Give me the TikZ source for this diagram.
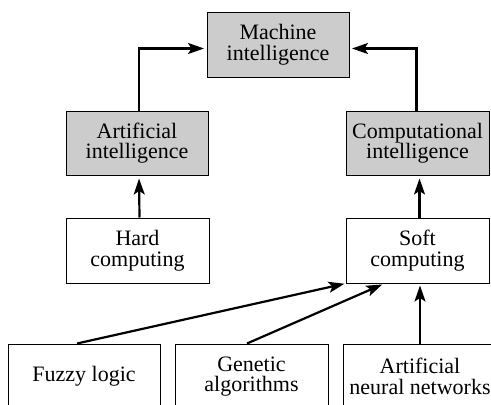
\documentclass[tikz,border=0pt]{standalone}
\usepackage{fontspec}
\setmainfont{Liberation Serif}
\usetikzlibrary{arrows.meta,calc}
\tikzset{
  box/.style={draw=black, line width=1pt, align=center, inner sep=0pt,
    font=\fontsize{22}{20.5}\selectfont},
  graybox/.style={box, fill=black!20},
  arr/.style={line width=2.2pt, -{Stealth[length=16pt,width=11pt,inset=3.5pt]}},
}
\begin{document}
\begin{tikzpicture}[x=1pt,y=-1pt]
\useasboundingbox (0,0) rectangle (491,405);
\clip (0,0) rectangle (491,405);
\node[graybox, minimum width=142pt, minimum height=65pt] (machine) at (278,44.5) {Machine\\intelligence};
\node[graybox, minimum width=142pt, minimum height=64pt] (ai) at (137,143) {Artificial\\intelligence};
\node[graybox, minimum width=143pt, minimum height=64pt] (ci) at (417.5,143) {Computational\\intelligence};
\node[box, minimum width=143pt, minimum height=65pt] (hard) at (137.5,250.5) {Hard\\computing};
\node[box, minimum width=143pt, minimum height=65pt] (soft) at (417.5,250.5) {Soft\\computing};
\node[box, minimum width=152pt, minimum height=65pt] (fuzzy) at (84,376.5) {Fuzzy logic};
\node[box, minimum width=153pt, minimum height=65pt] (genetic) at (251.5,376.5) {Genetic\\algorithms};
\node[box, minimum width=154pt, minimum height=65pt] (ann) at (420,376.5) {Artificial\\neural networks};

\draw[arr, shorten >=2.5pt] ([xshift=2pt]ai.north) |- ([yshift=-4pt]machine.west);
\draw[arr, shorten >=2.5pt] ([xshift=-1pt]ci.north) |- ([yshift=-4pt]machine.east);
\draw[arr, shorten >=3pt] ([xshift=2pt]hard.north) -- ([xshift=2pt]ai.south);
\draw[arr, shorten >=3pt] ([xshift=2pt]soft.north) -- ([xshift=2pt]ci.south);
\draw[arr, shorten >=2pt] (ann.north) -- (ann.north |- soft.south);
\draw[arr, shorten >=1pt] ([xshift=-7pt]fuzzy.north) -- (soft.south west);
\draw[arr, shorten >=2.5pt] ([xshift=-4.5pt]genetic.north) -- ([xshift=39pt]soft.south west);
\end{tikzpicture}
\end{document}
